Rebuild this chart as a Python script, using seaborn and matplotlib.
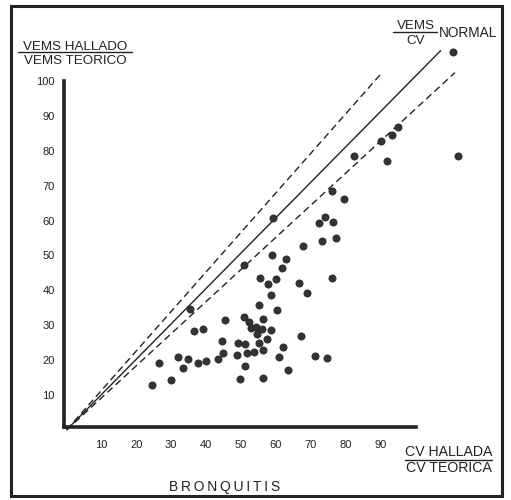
import matplotlib
matplotlib.use("Agg")
import matplotlib.pyplot as plt
import seaborn as sns
import pandas as pd
from matplotlib.lines import Line2D
from matplotlib.patches import Rectangle

# ---- data ----
cv_ratio = [59.3, 50.9, 35.4, 76.0, 79.6, 74.1, 72.4, 76.4, 73.3, 77.2, 67.9, 59.0, 62.9, 61.7,
            76.0, 55.4, 59.9, 57.8, 66.7, 58.5, 68.8, 55.1, 60.2, 45.4, 50.9, 52.3, 56.4, 52.9,
            54.3, 55.9, 54.5, 58.5, 36.6, 39.2, 67.2, 44.6, 49.2, 51.1, 55.2, 57.5, 61.9, 56.4,
            44.8, 51.6, 53.7, 48.9, 32.0, 34.7, 43.5, 60.9, 71.2, 74.6, 26.6, 37.6, 39.9, 33.3,
            51.1, 63.6, 29.9, 49.7, 56.4, 24.6, 82.5, 90.0, 93.3, 95.0, 91.7, 112.2]
vems_ratio = [60.7, 47.3, 34.7, 68.5, 66.1, 61.1, 59.2, 59.7, 54.2, 54.9, 52.8, 50.1, 48.9, 46.5,
              43.6, 43.5, 43.2, 41.7, 42.2, 38.6, 39.2, 35.8, 34.4, 31.5, 32.5, 30.9, 31.8, 29.3,
              29.6, 28.9, 27.5, 28.7, 28.5, 28.9, 27.0, 25.6, 25.0, 24.6, 25.0, 26.0, 23.9, 22.9,
              22.0, 22.0, 22.3, 21.5, 21.0, 20.3, 20.3, 20.8, 21.2, 20.6, 19.1, 19.3, 19.7, 17.9,
              18.3, 17.2, 14.3, 14.5, 14.8, 12.9, 78.5, 82.9, 84.6, 86.8, 77.1, 78.5]
normal_point_x = [110.8]
normal_point_y = [108.4]

# reference lines (endpoints from origin)
line_names = ["normal", "normal", "upper", "upper", "lower", "lower"]
line_x = [0, 107.3, 0, 89.8, 0, 111.3]
line_y = [0, 108.8, 0, 101.7, 0, 102.4]

x_ticks = [10, 20, 30, 40, 50, 60, 70, 80, 90, 100]
x_tick_labels = ["10", "20", "30", "40", "50", "60", "70", "80", "90", ""]
y_ticks = [10, 20, 30, 40, 50, 60, 70, 80, 90, 100]
y_tick_labels = ["10", "20", "30", "40", "50", "60", "70", "80", "90", "100"]

# ---- figure ----
sns.set_style("white")
plt.rcParams["font.family"] = ["Liberation Sans", "DejaVu Sans"]

W, H = 511, 500
fig = plt.figure(figsize=(W / 100, H / 100), dpi=100)
fig.patch.set_facecolor("white")

s = 3.49
x0, y0 = 66.5, 430
px_l, px_r, px_t, px_b = 40, 500, 20, 480
ax = fig.add_axes([px_l / W, 1 - px_b / H, (px_r - px_l) / W, (px_b - px_t) / H])
ax.set_xlim((px_l - x0) / s, (px_r - x0) / s)
ax.set_ylim((y0 - px_b) / s, (y0 - px_t) / s)
ax.patch.set_alpha(0)

ink = "#222222"
lines_df = pd.DataFrame({"name": line_names, "x": line_x, "y": line_y})
styles = {"normal": (0, ()), "upper": (0, (5, 3)), "lower": (0, (5, 3))}
for name, grp in lines_df.groupby("name", sort=False):
    sns.lineplot(data=grp, x="x", y="y", ax=ax, color=ink, lw=1.0,
                 linestyle=styles[name], legend=False, estimator=None, sort=False)

pts = pd.DataFrame({"cv": cv_ratio, "vems": vems_ratio})
sns.scatterplot(data=pts, x="cv", y="vems", ax=ax, s=27, color="#333333",
                edgecolor="#222222", linewidth=0.5, zorder=3)
sns.scatterplot(x=normal_point_x, y=normal_point_y, ax=ax, s=27, color="#333333",
                edgecolor="#222222", linewidth=0.5, zorder=3)

ax.spines["top"].set_visible(False)
ax.spines["right"].set_visible(False)
ax.spines["left"].set_position(("data", -0.8))
ax.spines["bottom"].set_position(("data", 0.8))
ax.spines["left"].set_bounds(0.8, 100)
ax.spines["bottom"].set_bounds(-0.8, 100)
for sp in ("left", "bottom"):
    ax.spines[sp].set_linewidth(2.6)
    ax.spines[sp].set_color(ink)

ax.set_xticks(x_ticks)
ax.set_xticklabels(x_tick_labels)
ax.set_yticks(y_ticks)
ax.set_yticklabels(y_tick_labels)
ax.tick_params(axis="both", direction="out", length=5, width=1, color=ink,
               labelsize=8, labelcolor=ink, pad=1.5)
ax.tick_params(axis="x", pad=4)
ax.set_xlabel("")
ax.set_ylabel("")


def frac_label(xc, top, bottom, ybase, yline, ytop2, x1, x2, size=9.6):
    fig.text(xc / W, 1 - ybase / H, top, ha="center", va="baseline", fontsize=size, color=ink)
    fig.text(xc / W, 1 - ytop2 / H, bottom, ha="center", va="top", fontsize=size, color=ink)
    fig.add_artist(Line2D([x1 / W, x2 / W], [1 - yline / H, 1 - yline / H],
                          transform=fig.transFigure, color=ink, lw=1.0))


frac_label(75, "VEMS HALLADO", "VEMS TEORICO", 49.5, 52.3, 54.5, 18, 132)
frac_label(416, "VEMS", "CV", 29.5, 32.3, 34.5, 393, 437)
fig.text(468 / W, 1 - 36.7 / H, "NORMAL", ha="center", va="baseline", fontsize=9.8, color=ink)
frac_label(449, "CV HALLADA", "CV TEORICA", 456.5, 459.5, 461.5, 405, 492, size=10.2)
fig.text(225 / W, 1 - 490.7 / H, "B\u2009R\u2009O\u2009N\u2009Q\u2009U\u2009I\u2009T\u2009I\u2009S",
         ha="center", va="baseline", fontsize=10, color=ink)

# outer frame
fig.add_artist(Rectangle((11 / W, 4 / H), (502 - 11) / W, (494 - 4) / H,
                         transform=fig.transFigure, fill=False, lw=2.2, edgecolor=ink))

fig.savefig("out.png", dpi=100)
